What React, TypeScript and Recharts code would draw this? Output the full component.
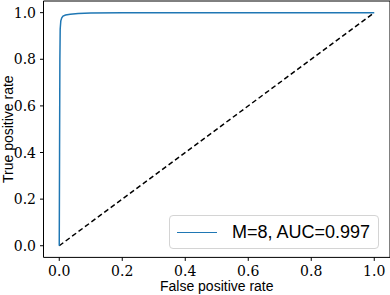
import { Line, LineChart, ReferenceArea, XAxis, YAxis } from "recharts";

const fpr = [0, 0.001, 0.002, 0.003, 0.005, 0.008, 0.012, 0.02, 0.035, 0.06, 0.1, 0.2, 0.5, 1.0];
const tpr = [0, 0.4, 0.8, 0.93, 0.965, 0.978, 0.985, 0.99, 0.993, 0.996, 0.999, 1.0, 1.0, 1.0];
const chanceX = [0, 1];
const ticks = [0, 0.2, 0.4, 0.6, 0.8, 1.0];

const rocData = fpr.map((x, i) => ({ x, y: tpr[i] }));
const chanceData = chanceX.map((x) => ({ x, y: x }));

const serif = "'DejaVu Serif', serif";
const sans = "'Liberation Sans', sans-serif";

function XTick(props: any) {
  const { x, y, payload } = props;
  return (
    <text x={x} y={y + 13} textAnchor="middle" fill="#000" fontFamily={serif} fontSize={14} style={{ fontFamily: serif, fontWeight: 300 }}>
      {Number(payload.value).toFixed(1)}
    </text>
  );
}

function YTick(props: any) {
  const { x, y, payload } = props;
  return (
    <text x={x - 2} y={y + 5} textAnchor="end" fill="#000" fontFamily={serif} fontSize={14} style={{ fontFamily: serif, fontWeight: 300 }}>
      {Number(payload.value).toFixed(1)}
    </text>
  );
}

export default function App() {
  return (
    <div style={{ position: "fixed", left: 0, top: 0, width: 390, height: 295, background: "white" }}>
      <LineChart width={390} height={295} margin={{ top: 1, right: 0, bottom: 0, left: 0 }}>
        <XAxis
          type="number"
          dataKey="x"
          domain={[-0.05, 1.05]}
          ticks={ticks}
          allowDataOverflow
          height={37.6}
          axisLine={false}
          tickLine={{ stroke: "#000" }}
          tickSize={3.5}
          tick={<XTick />}
          label={{ value: "False positive rate", position: "insideBottom", offset: 4, fill: "#000", fontFamily: sans, fontSize: 14 }}
        />
        <YAxis
          type="number"
          dataKey="y"
          domain={[-0.05, 1.05]}
          ticks={ticks}
          allowDataOverflow
          width={43.5}
          axisLine={false}
          tickLine={{ stroke: "#000" }}
          tickSize={3.5}
          tick={<YTick />}
          label={{ value: "True positive rate", angle: -90, position: "insideLeft", offset: 0, dx: 8, fill: "#000", fontFamily: sans, fontSize: 14, style: { textAnchor: "middle" } }}
        />
        <Line
          data={chanceData}
          dataKey="y"
          stroke="#000"
          strokeWidth={1.5}
          strokeDasharray="5 3"
          dot={false}
          activeDot={false}
          isAnimationActive={false}
        />
        <Line
          data={rocData}
          dataKey="y"
          type="linear"
          stroke="#1f77b4"
          strokeWidth={1.5}
          dot={false}
          activeDot={false}
          isAnimationActive={false}
        />
        <ReferenceArea x1={-0.05} x2={1.05} y1={-0.05} y2={1.05} fill="none" stroke="#000" strokeWidth={1} ifOverflow="visible" />
      </LineChart>
      <div
        style={{
          position: "absolute",
          left: 169,
          top: 215,
          width: 208,
          height: 32,
          border: "1px solid #d4d4d4",
          borderRadius: 4,
          background: "white",
          display: "flex",
          alignItems: "center",
          fontFamily: sans,
          fontSize: 18,
          color: "#000",
        }}
      >
        <span style={{ display: "inline-block", width: 40, height: 0, borderTop: "1.5px solid #1f77b4", marginLeft: 7, marginRight: 15 }} />
        <span>M=8, AUC=0.997</span>
      </div>
    </div>
  );
}
